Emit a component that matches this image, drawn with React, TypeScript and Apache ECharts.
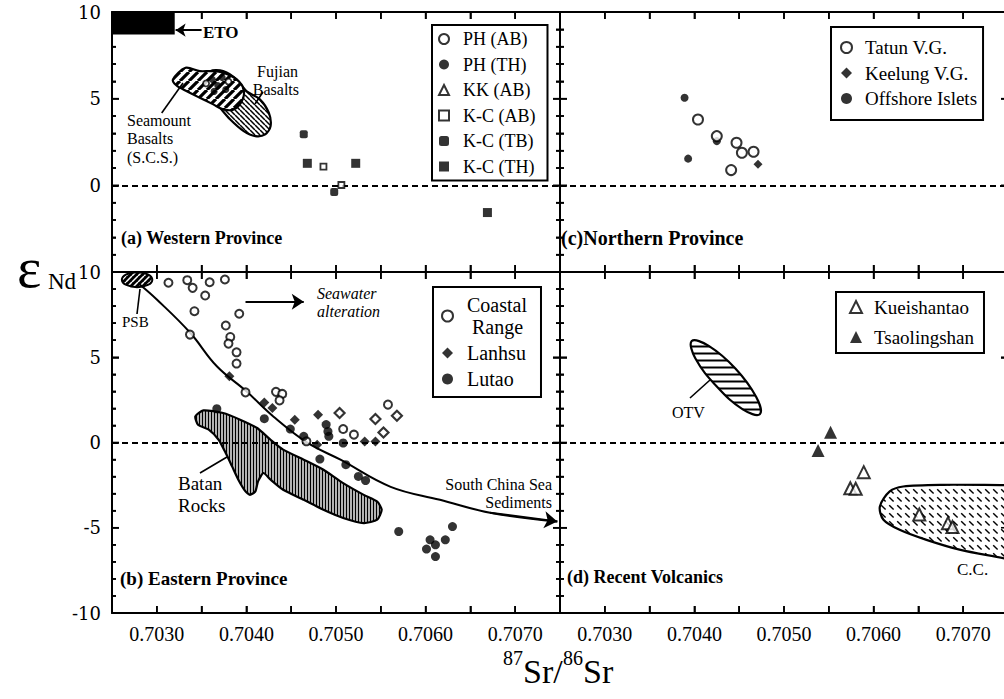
import React, { useEffect, useRef } from "react";
import * as echarts from "echarts";

// ---------- axes ----------
const SR_MIN = 0.7025;
const SR_MAX = 0.7075;
const SR_TICK = 0.0005;
const SR_BULK = 0.7047;
const ND_TOP = [-5, 10];
const ND_BOTTOM = [-10, 10];
const ND_TICK = 5;
const SR_TICKS = [0.703, 0.7035, 0.704, 0.7045, 0.705, 0.7055, 0.706, 0.7065, 0.707];
const ND_TICKS_TOP = [-4, -3, -2, -1, 0, 1, 2, 3, 4, 5, 6, 7, 8, 9];
const ND_TICKS_BOTTOM = [-9, -8, -7, -6, -5, -4, -3, -2, -1, 0, 1, 2, 3, 4, 5, 6, 7, 8, 9];

// ---------- (a) Western Province ----------
const PH_AB = [[0.70355, 5.88], [0.7038, 5.99]];
const PH_TH = [[0.70362, 6.11], [0.70368, 5.76], [0.70373, 6.22], [0.70364, 5.42], [0.70377, 5.53]];
const KK_AB: number[][] = [];
const KC_AB = [[0.70486, 1.08], [0.70506, 0.02]];
const KC_TB = [[0.70464, 2.94], [0.70498, -0.39]];
const KC_TH = [[0.70468, 1.27], [0.70522, 1.27], [0.70669, -1.57]];
const ETO_BOX = [[0.7025, 10], [0.7032, 8.7]];
const ETO_ARROW = [[0.7035, 8.95], [0.70321, 8.95]];
const SEAMOUNT_FIELD = [
  [0.70318, 6.11], [0.70332, 6.78], [0.70348, 6.59], [0.70361, 6.59], [0.70374, 6.5],
  [0.70389, 6.11], [0.70397, 5.53], [0.70395, 4.86], [0.70386, 4.38], [0.70374, 4.38],
  [0.70363, 4.67], [0.70348, 5.05], [0.70333, 5.44], [0.70322, 5.76],
];
const FUJIAN_FIELD = [
  [0.7036, 6.59], [0.70374, 6.59], [0.70389, 6.11], [0.704, 5.44], [0.70415, 4.96],
  [0.70425, 4.19], [0.70427, 3.42], [0.70421, 2.94], [0.7041, 2.84], [0.70397, 3.13],
  [0.70382, 3.8], [0.70369, 4.57], [0.70359, 5.15], [0.70356, 5.92],
];

// ---------- (c) Northern Province ----------
const TATUN = [[0.70404, 3.8], [0.70425, 2.84], [0.70447, 2.46], [0.70453, 1.88], [0.70466, 1.94], [0.70441, 0.88]];
const KEELUNG = [[0.70471, 1.21]];
const OFFSHORE = [[0.70389, 5.05], [0.70393, 1.54], [0.70425, 2.55]];

// ---------- (b) Eastern Province ----------
const COASTAL = [
  [0.70313, 9.37], [0.70334, 9.52], [0.7034, 9.07], [0.70359, 9.4], [0.70376, 9.56],
  [0.70354, 8.62], [0.70342, 7.7], [0.70337, 6.33], [0.70392, 7.55], [0.70377, 6.86],
  [0.70382, 6.19], [0.7038, 5.8], [0.70389, 5.29], [0.70389, 4.63], [0.70399, 2.94],
  [0.70433, 2.97], [0.7044, 2.85], [0.70437, 2.47], [0.70558, 2.22], [0.70508, 0.79],
  [0.7052, 0.46], [0.70467, 0.07],
];
const LANHSU = [
  [0.70381, 3.88], [0.7042, 2.35], [0.70429, 2.03], [0.70454, 1.34], [0.7048, 1.63],
  [0.70532, 0.06], [0.70544, 0.06], [0.70479, -0.13],
];
const LANHSU_OPEN = [[0.70504, 1.73], [0.70544, 1.38], [0.70568, 1.57], [0.70553, 0.59]];
const LUTAO = [
  [0.70367, 1.98], [0.7042, 1.4], [0.70449, 0.79], [0.70464, 0.36], [0.70489, 1.05],
  [0.70491, 0.65], [0.70492, 0.36], [0.70482, -0.97], [0.70511, -1.3], [0.70525, -1.99],
  [0.70533, -2.23], [0.7057, -5.22], [0.70601, -6.25], [0.70605, -5.71], [0.70611, -6.0],
  [0.70611, -6.69], [0.70622, -5.71], [0.7063, -4.93], [0.70508, -0.03],
];
const MIXING_CURVE = [
  [0.70281, 9.27], [0.703, 8.39], [0.70337, 6.45], [0.70367, 4.47], [0.704, 3.0],
  [0.7043, 1.53], [0.70468, -0.01], [0.70505, -1.01], [0.70561, -2.6], [0.70616, -3.36],
  [0.70672, -4.12], [0.70747, -4.63],
];
const SEAWATER_ARROW = [[0.70399, 8.25], [0.70464, 8.25]];
const PSB_CENTER = [0.70278, 9.55];
const PSB_SIZE = [0.00034, 0.88];
const BATAN_FIELD = [
  [0.70343, 1.53], [0.70352, 1.88], [0.70374, 1.73], [0.70393, 1.34], [0.70412, 0.85],
  [0.70427, 0.16], [0.70441, -0.42], [0.70464, -1.01], [0.70486, -1.6], [0.70508, -2.38],
  [0.70531, -3.07], [0.70546, -3.46], [0.70551, -3.95], [0.70546, -4.53], [0.70531, -4.73],
  [0.70508, -4.43], [0.70486, -3.95], [0.70464, -3.36], [0.70441, -2.77], [0.70427, -2.18],
  [0.70419, -1.79], [0.70413, -2.28], [0.7041, -2.87], [0.70404, -3.07], [0.70399, -2.87],
  [0.70391, -2.18], [0.70384, -1.4], [0.70376, -0.52], [0.70369, 0.16], [0.70358, 0.75],
  [0.70346, 1.04],
];

// ---------- (d) Recent Volcanics ----------
const KUEISHANTAO = [[0.70589, -1.74], [0.70574, -2.68], [0.7058, -2.71], [0.70651, -4.22], [0.70683, -4.73], [0.70688, -4.96]];
const TSAOLINGSHAN = [[0.70552, 0.6], [0.70538, -0.47]];
const OTV_FIELD = [
  [0.70473, 1.66], [0.70469, 2.67], [0.70446, 4.33], [0.70416, 5.67],
  [0.70397, 5.95], [0.70401, 4.94], [0.70425, 3.28], [0.70454, 1.94],
];
const CC_FIELD = [
  [0.70607, -3.75], [0.70618, -2.87], [0.70633, -2.58], [0.70678, -2.48], [0.70746, -2.5],
  [0.70755, -2.5], [0.70755, -6.95], [0.70746, -6.8], [0.70697, -6.3], [0.70659, -5.71],
  [0.70629, -5.12], [0.70611, -4.53],
];

const LEGEND_A = ["PH (AB)", "PH (TH)", "KK (AB)", "K-C (AB)", "K-C (TB)", "K-C (TH)"];
const LEGEND_B = ["Coastal Range", "Lanhsu", "Lutao"];
const LEGEND_C = ["Tatun V.G.", "Keelung V.G.", "Offshore Islets"];
const LEGEND_D = ["Kueishantao", "Tsaolingshan"];

const SERIF = "Liberation Serif";
const TICK_MAJOR = 7;
const TICK_MINOR = 4;

function hatch(size: number, bg: string, fg: string, lw: number, kind: string) {
  const c = document.createElement("canvas");
  c.width = size;
  c.height = size;
  const ctx = c.getContext("2d")!;
  ctx.fillStyle = bg;
  ctx.fillRect(0, 0, size, size);
  ctx.strokeStyle = fg;
  ctx.lineWidth = lw;
  ctx.beginPath();
  const s = size;
  if (kind === "/") {
    for (const o of [-s, 0, s]) { ctx.moveTo(o, s); ctx.lineTo(o + s, 0); }
  } else if (kind === "\\") {
    for (const o of [-s, 0, s]) { ctx.moveTo(o, 0); ctx.lineTo(o + s, s); }
  } else if (kind === "|") {
    ctx.moveTo(s / 2, 0); ctx.lineTo(s / 2, s);
  } else if (kind === "-") {
    ctx.moveTo(0, s / 2); ctx.lineTo(s, s / 2);
  } else if (kind === "dash") {
    ctx.moveTo(s * 0.15, s * 0.15); ctx.lineTo(s * 0.7, s * 0.7);
  }
  ctx.stroke();
  return { image: c.toDataURL(), repeat: "repeat", imageWidth: s, imageHeight: s };
}

const fmtSr = (v: number) => (Math.round(v * 10000) % 10 === 0 ? v.toFixed(4) : "");

function xAxisDef(g: number, pos: string, showLabel: boolean) {
  return {
    type: "value", gridIndex: g, position: pos, min: SR_MIN, max: SR_MAX, interval: SR_TICK,
    axisLine: { show: true, onZero: false, lineStyle: { color: "#000", width: 2 } },
    axisTick: { show: true, inside: true, length: TICK_MAJOR, lineStyle: { color: "#000", width: 1.6 } },
    axisLabel: { show: showLabel, formatter: fmtSr, color: "#000", fontFamily: SERIF, fontSize: 20, margin: 11 },
    splitLine: { show: false },
  };
}
function yAxisDef(g: number, pos: string, showLabel: boolean, range: number[], top: boolean) {
  return {
    type: "value", gridIndex: g, position: pos, min: range[0], max: range[1], interval: ND_TICK,
    axisLine: { show: true, onZero: false, lineStyle: { color: "#000", width: 2 } },
    axisTick: { show: true, inside: true, length: TICK_MAJOR, lineStyle: { color: "#000", width: 1.6 } },
    minorTick: { show: true, splitNumber: 5, length: TICK_MINOR, lineStyle: { color: "#000", width: 1.6 } },
    axisLabel: {
      show: showLabel, color: "#000", fontFamily: "DejaVu Serif", fontSize: 18, margin: 11,
      formatter: (v: number) => (top && v < 0 ? "" : String(v)),
    },
    splitLine: { show: false },
    minorSplitLine: { show: false },
  };
}

const openSym = (symbol: string, size: number, bw = 2) => ({
  symbol, symbolSize: size, itemStyle: { color: "#fff", borderColor: "#000", borderWidth: bw },
});
const solidSym = (symbol: string, size: number) => ({
  symbol, symbolSize: size, itemStyle: { color: "#000", borderWidth: 0 },
});
function scatter(name: string, g: number, data: number[][], sym: any, extra: any = {}) {
  return {
    type: "scatter", name, xAxisIndex: 2 * g, yAxisIndex: 2 * g, data, z: 5,
    emphasis: { disabled: true }, ...sym, ...extra,
  };
}
const guides = {
  silent: true, symbol: "none", label: { show: false },
  lineStyle: { color: "#000", width: 2, type: [6, 4] },
  emphasis: { disabled: true },
  data: [{ xAxis: SR_BULK }, { yAxis: 0 }],
};
function field(g: number, pts: number[][], fill: any, smooth: number, lw = 2.2) {
  return {
    type: "custom", xAxisIndex: 2 * g, yAxisIndex: 2 * g, clip: true, silent: true, z: 2,
    data: [pts[0]],
    renderItem: (_p: any, api: any) => ({
      type: "polygon",
      shape: { points: pts.map((p) => api.coord(p)), smooth },
      style: { fill, stroke: "#000", lineWidth: lw },
    }),
  };
}
function arrow(g: number, coords: number[][], size = 11) {
  return {
    type: "lines", coordinateSystem: "cartesian2d", xAxisIndex: 2 * g, yAxisIndex: 2 * g,
    silent: true, z: 4, symbol: ["none", "arrow"], symbolSize: size,
    lineStyle: { color: "#000", width: 2, opacity: 1 },
    data: [{ coords }],
  };
}
function legendDef(names: string[], left: number, top: number, o: any) {
  return {
    data: names, left, top, orient: "vertical", selectedMode: false,
    borderColor: "#000", borderWidth: 2, backgroundColor: "#fff",
    padding: o.padding, itemGap: o.itemGap, itemWidth: o.icon, itemHeight: o.icon,
    textStyle: {
      fontFamily: SERIF, fontSize: o.fontSize, lineHeight: o.lineHeight, color: "#000",
      padding: [0, 0, 0, o.textPad],
    },
    formatter: o.formatter,
  };
}
const txt = (x: number, y: number, text: string, size: number, o: any = {}) => ({
  type: "text", z: 100, silent: true,
  style: {
    x, y, text, fill: "#000", align: o.align || "left", verticalAlign: "middle",
    font: `${o.style || "normal"} ${o.weight || "normal"} ${size}px "${o.family || SERIF}"`,
  },
});
const seg = (x1: number, y1: number, x2: number, y2: number) => ({
  type: "line", z: 100, silent: true,
  shape: { x1, y1, x2, y2 }, style: { stroke: "#000", lineWidth: 1.6 },
});

export default function App() {
  const ref = useRef<HTMLDivElement>(null);
  useEffect(() => {
    if (!ref.current) return;
    const chart = echarts.init(ref.current, undefined, { renderer: "svg" });
    const pSeamount = hatch(9, "#fff", "#000", 3.2, "/");
    const pFujian = hatch(5, "#fff", "#000", 1.5, "\\");
    const pBatan = hatch(3, "#fff", "#000", 1.6, "|");
    const pOtv = hatch(7, "#fff", "#000", 2, "-");
    const pCc = hatch(8, "#fff", "#000", 1.4, "dash");
    const pPsb = hatch(6, "#000", "#fff", 1.5, "/");

    const grids = [
      { left: 112, top: 12, width: 448, height: 260 },
      { left: 560, top: 12, width: 448, height: 260 },
      { left: 112, top: 272, width: 448, height: 341 },
      { left: 560, top: 272, width: 448, height: 341 },
    ].map((g) => ({ ...g, outerBoundsMode: "none", containLabel: false }));

    const xAxis: any[] = [];
    const yAxis: any[] = [];
    for (let g = 0; g < 4; g++) {
      xAxis.push(xAxisDef(g, "bottom", g >= 2));
      xAxis.push(xAxisDef(g, "top", false));
      const range = g < 2 ? ND_TOP : ND_BOTTOM;
      yAxis.push(yAxisDef(g, "left", g === 0 || g === 2, range, g < 2));
      yAxis.push(yAxisDef(g, "right", false, range, g < 2));
    }

    const series: any[] = [
      // (a)
      {
        type: "custom", xAxisIndex: 0, yAxisIndex: 0, clip: true, silent: true, z: 2,
        data: [ETO_BOX[0]],
        renderItem: (_p: any, api: any) => {
          const a = api.coord(ETO_BOX[0]);
          const b = api.coord(ETO_BOX[1]);
          return { type: "rect", shape: { x: a[0], y: a[1], width: b[0] - a[0], height: b[1] - a[1] }, style: { fill: "#000" } };
        },
      },
      arrow(0, ETO_ARROW, 10),
      field(0, FUJIAN_FIELD, pFujian, 0.3),
      field(0, SEAMOUNT_FIELD, pSeamount, 0.3),
      scatter("PH (AB)", 0, PH_AB, openSym("circle", 6, 1.8)),
      scatter("PH (TH)", 0, PH_TH, solidSym("circle", 7)),
      scatter("KK (AB)", 0, KK_AB, openSym("triangle", 10)),
      scatter("K-C (AB)", 0, KC_AB, openSym("rect", 6, 1.8)),
      scatter("K-C (TB)", 0, KC_TB, solidSym("roundRect", 8)),
      scatter("K-C (TH)", 0, KC_TH, solidSym("rect", 9), { markLine: guides }),
      // (c)
      scatter("Offshore Islets", 1, OFFSHORE, solidSym("circle", 8)),
      scatter("Tatun V.G.", 1, TATUN, openSym("circle", 10), { markLine: guides }),
      scatter("Keelung V.G.", 1, KEELUNG, solidSym("diamond", 9)),
      // (b)
      field(2, BATAN_FIELD, pBatan, 0.2),
      {
        type: "custom", xAxisIndex: 4, yAxisIndex: 4, clip: true, silent: true, z: 2,
        data: [PSB_CENTER],
        renderItem: (_p: any, api: any) => {
          const c = api.coord(PSB_CENTER);
          const s = api.size(PSB_SIZE);
          return { type: "ellipse", shape: { cx: c[0], cy: c[1], rx: s[0] / 2, ry: s[1] / 2 }, style: { fill: pPsb, stroke: "#000", lineWidth: 2 } };
        },
      },
      {
        type: "line", xAxisIndex: 4, yAxisIndex: 4, data: MIXING_CURVE, smooth: 0.4, showSymbol: false,
        symbol: "none", silent: true, z: 3, lineStyle: { color: "#000", width: 2 },
      },
      arrow(2, MIXING_CURVE.slice(-2), 13),
      arrow(2, SEAWATER_ARROW, 12),
      scatter("Coastal Range", 2, COASTAL, openSym("circle", 8), { markLine: guides }),
      scatter("Lanhsu", 2, LANHSU, solidSym("diamond", 10)),
      scatter("Lanhsu (open)", 2, LANHSU_OPEN, openSym("diamond", 10, 2.2)),
      scatter("Lutao", 2, LUTAO, solidSym("circle", 9)),
      // (d)
      field(3, OTV_FIELD, pOtv, 0.4),
      field(3, CC_FIELD, pCc, 0.3),
      scatter("Kueishantao", 3, KUEISHANTAO, openSym("triangle", 12), { markLine: guides }),
      scatter("Tsaolingshan", 3, TSAOLINGSHAN, solidSym("triangle", 13)),
    ];

    const legend = [
      legendDef(LEGEND_A, 432, 25, { padding: [5, 12, 5, 6], itemGap: 7.5, icon: 10, textPad: 9, fontSize: 18, lineHeight: 16 }),
      legendDef(LEGEND_C, 831, 27, { padding: [11, 6, 12, 9], itemGap: 6.5, icon: 11, textPad: 8, fontSize: 19, lineHeight: 18 }),
      legendDef(LEGEND_B, 433, 287, {
        padding: [7, 14, 7, 8], itemGap: 4, icon: 11, textPad: 9, fontSize: 20, lineHeight: 22,
        formatter: (n: string) => (n === "Coastal Range" ? "Coastal\n Range" : n),
      }),
      legendDef(LEGEND_D, 836, 292, { padding: [5, 10, 6, 13], itemGap: 10, icon: 12, textPad: 7, fontSize: 19, lineHeight: 20 }),
    ];

    const graphic: any[] = [
      txt(203, 32, "ETO", 17, { weight: "bold" }),
      txt(298, 71, "Fujian", 16, { align: "right" }),
      txt(299, 89, "Basalts", 16, { align: "right" }),
      txt(127, 120, "Seamount", 16),
      txt(127, 138, "Basalts", 16),
      txt(127, 157, "(S.C.S.)", 16),
      seg(161.7, 113, 183, 83),
      seg(263, 92, 255, 104),
      txt(121, 238, "(a) Western Province", 18, { weight: "bold" }),
      txt(561, 238, "(c)Northern Province", 20, { weight: "bold" }),
      txt(120, 578, "(b) Eastern Province", 19, { weight: "bold" }),
      txt(567, 577, "(d) Recent Volcanics", 18, { weight: "bold" }),
      txt(122, 322, "PSB", 15),
      seg(140, 289, 137, 314),
      txt(317, 293, "Seawater", 16, { style: "italic" }),
      txt(317, 311, "alteration", 16, { style: "italic" }),
      txt(178, 483, "Batan", 19),
      txt(178, 505, "Rocks", 19),
      seg(200, 473, 227, 457),
      txt(552, 484, "South China Sea", 16, { align: "right" }),
      txt(552, 502, "Sediments", 16, { align: "right" }),
      txt(672, 412, "OTV", 16),
      seg(690, 398, 710, 380),
      txt(957, 569, "C.C.", 17),
      txt(17, 267, "ε", 58),
      txt(48, 281, "Nd", 23),
      txt(503, 658, "87", 20),
      txt(523, 671, "Sr/", 34),
      txt(563, 658, "86", 20),
      txt(583, 671, "Sr", 34),
    ];

    chart.setOption({
      animation: false,
      backgroundColor: "#fff",
      textStyle: { fontFamily: SERIF },
      grid: grids,
      xAxis,
      yAxis,
      legend,
      series,
      graphic,
    });

    // inward frame ticks, positioned through the axes' own scales (convertToPixel)
    try {
      const tickEls: any[] = [];
      const ranges = [ND_TOP, ND_TOP, ND_BOTTOM, ND_BOTTOM];
      const yTickSets = [ND_TICKS_TOP, ND_TICKS_TOP, ND_TICKS_BOTTOM, ND_TICKS_BOTTOM];
      for (let g = 0; g < 4; g++) {
        const finder = { xAxisIndex: 2 * g, yAxisIndex: 2 * g };
        const lb = chart.convertToPixel(finder, [SR_MIN, ranges[g][0]]) as number[];
        const rt = chart.convertToPixel(finder, [SR_MAX, ranges[g][1]]) as number[];
        for (const v of SR_TICKS) {
          const x = (chart.convertToPixel(finder, [v, ranges[g][0]]) as number[])[0];
          tickEls.push(seg(x, lb[1], x, lb[1] - TICK_MAJOR));
          tickEls.push(seg(x, rt[1], x, rt[1] + TICK_MAJOR));
        }
        for (const v of yTickSets[g]) {
          const y = (chart.convertToPixel(finder, [SR_MIN, v]) as number[])[1];
          const L = v % 5 === 0 ? TICK_MAJOR : TICK_MINOR;
          tickEls.push(seg(lb[0], y, lb[0] + L, y));
          tickEls.push(seg(rt[0], y, rt[0] - L, y));
        }
      }
      chart.setOption({ graphic: [...graphic, ...tickEls] });
    } catch (e) {
      // keep the chart without extra ticks
    }
    return () => chart.dispose();
  }, []);

  return (
    <div style={{ position: "fixed", left: 0, top: 0, width: 1004, height: 699, overflow: "hidden", background: "#fff" }}>
      <div ref={ref} style={{ width: 1012, height: 699 }} />
    </div>
  );
}
